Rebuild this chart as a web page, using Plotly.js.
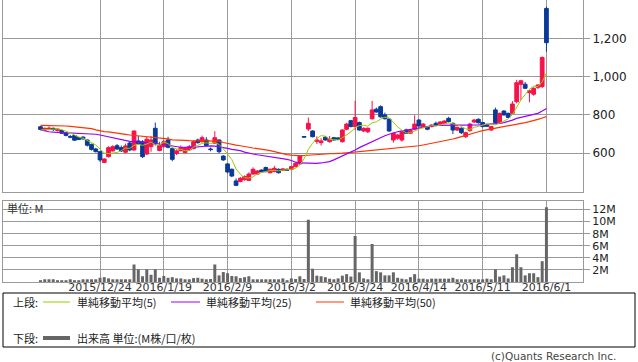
<!DOCTYPE html>
<html><head><meta charset="utf-8">
<script src="https://cdn.plot.ly/plotly-3.0.1.min.js"></script>
<style>html,body{margin:0;padding:0;background:#fff;}#chart{width:638px;height:362px;}</style>
</head><body><div id="chart"></div>
<script>
const dates = [
"2015/12/3","2015/12/4","2015/12/7","2015/12/8","2015/12/9","2015/12/10","2015/12/11","2015/12/14","2015/12/15","2015/12/16",
"2015/12/17","2015/12/18","2015/12/21","2015/12/22","2015/12/24","2015/12/25","2015/12/28","2015/12/29","2015/12/30","2016/1/4",
"2016/1/5","2016/1/6","2016/1/7","2016/1/8","2016/1/12","2016/1/13","2016/1/14","2016/1/15","2016/1/18","2016/1/19",
"2016/1/20","2016/1/21","2016/1/22","2016/1/25","2016/1/26","2016/1/27","2016/1/28","2016/1/29","2016/2/1","2016/2/2",
"2016/2/3","2016/2/4","2016/2/5","2016/2/8","2016/2/9","2016/2/10","2016/2/12","2016/2/15","2016/2/16","2016/2/17",
"2016/2/18","2016/2/19","2016/2/22","2016/2/23","2016/2/24","2016/2/25","2016/2/26","2016/2/29","2016/3/1","2016/3/2",
"2016/3/3","2016/3/4","2016/3/7","2016/3/8","2016/3/9","2016/3/10","2016/3/11","2016/3/14","2016/3/15","2016/3/16",
"2016/3/17","2016/3/18","2016/3/22","2016/3/23","2016/3/24","2016/3/25","2016/3/28","2016/3/29","2016/3/30","2016/3/31",
"2016/4/1","2016/4/4","2016/4/5","2016/4/6","2016/4/7","2016/4/8","2016/4/11","2016/4/12","2016/4/13","2016/4/14",
"2016/4/15","2016/4/18","2016/4/19","2016/4/20","2016/4/21","2016/4/22","2016/4/25","2016/4/26","2016/4/27","2016/4/28",
"2016/5/2","2016/5/6","2016/5/9","2016/5/10","2016/5/11","2016/5/12","2016/5/13","2016/5/16","2016/5/17","2016/5/18",
"2016/5/19","2016/5/20","2016/5/23","2016/5/24","2016/5/25","2016/5/26","2016/5/27","2016/5/30","2016/5/31","2016/6/1"];

const openP = [738,720,724,730,719,718,706,687,692,682, 684,669,646,622,608,552,582,612,639,629,
605,653,617,664,660,596,634,730,614,634, 669,624,598,613,603,617,625,669,660,669,
622,652,669,585,544,516,455,452,462,458, 491,491,512,525,498,504,516,510,516,516,
530,544,687,726,716,662,655,683,660,681, 680,660,725,770,739,760,716,712,780,830,
843,800,778,669,678,669,721,704,725,773, 735,737,739,756,752,756,782,756,721,730,
686,718,763,777,760,748,721,826,760,820, 808,808,869,960,960,916,908,944,948,1356];
const highP = [742,734,740,734,728,722,708,695,694,686, 688,672,650,628,610,572,636,642,648,640,
650,662,718,690,668,685,690,760,660,670, 686,630,620,640,630,643,665,676,692,684,
630,715,672,590,548,520,468,476,484,500, 526,512,516,530,520,534,520,522,520,534,
552,590,687,786,720,688,678,690,690,685, 684,725,758,774,874,765,735,735,873,838,
850,812,782,708,700,716,728,722,798,778, 758,742,752,765,768,772,790,760,740,735,
712,758,778,782,764,752,742,838,812,825, 812,872,983,983,972,930,944,960,1105,1365];
const lowP = [720,716,720,715,714,700,688,678,664,668, 670,635,614,604,555,548,578,608,618,606,
600,610,612,645,575,590,608,640,610,630, 625,558,590,610,600,612,620,650,656,635,
610,648,600,560,495,475,428,448,456,455, 488,488,500,500,494,500,494,506,508,512,
526,540,684,716,683,648,640,665,655,665, 668,655,720,735,721,718,710,705,775,812,
786,776,712,655,670,660,700,700,720,738, 730,720,735,740,748,752,760,700,715,700,
680,712,758,755,735,738,716,756,755,796, 784,804,860,878,935,866,900,935,940,1130];
const closeP = [724,730,731,725,726,704,693,684,668,672, 675,642,620,608,565,570,629,634,622,612,
638,617,716,650,582,673,669,648,640,660, 631,568,612,629,625,634,660,655,681,640,
619,681,608,565,502,481,432,469,478,491, 516,507,503,504,516,521,498,518,511,530,
547,585,684,756,686,669,664,669,673,669, 672,721,752,739,786,721,730,730,826,815,
790,780,716,704,695,712,704,718,752,742, 752,725,747,746,763,768,765,721,735,707,
707,752,773,759,739,741,739,760,808,800, 787,857,968,978,939,926,939,956,1100,1177];

const ma5 = [721,722,722,724,727,723,716,706,695,684, 678,668,655,643,622,601,598,601,604,613,
627,625,641,647,641,648,658,644,642,658, 650,629,622,620,613,614,632,641,651,654,
651,655,646,623,595,567,518,490,472,470, 477,492,499,504,509,510,508,511,513,516,
521,538,571,620,652,676,692,689,672,669, 669,681,697,711,734,744,746,741,759,764,
778,788,785,761,737,721,706,707,716,726, 734,738,744,742,747,750,758,753,750,739,
727,724,735,740,746,753,750,748,757,770, 779,802,844,878,906,934,950,948,972,1020];
const ma25 = [721,715,712,710,709,709,709,707,705,704, 704,704,703,699,695,690,686,681,677,673,
668,662,660,659,658,657,656,652,648,644, 640,636,632,631,630,630,631,633,635,637,
638,637,634,629,625,620,617,613,606,599, 596,592,589,586,583,580,576,572,568,562,
553,549,548,547,547,547,549,552,556,565, 575,585,595,604,617,629,640,650,660,672,
683,691,699,707,712,717,721,726,730,735, 739,741,743,745,745,745,745,745,745,745,
745,746,747,748,749,750,751,753,756,760, 765,773,782,787,792,796,800,808,820,834];
const ma50 = [745,745,745,744,744,743,742,740,737,735, 733,732,728,722,716,713,711,707,704,701,
698,695,693,690,688,686,685,681,679,677, 675,670,668,667,667,666,666,666,666,665,
665,664,663,656,650,645,642,639,634,629, 627,624,622,617,613,607,601,597,593,590,
588,587,588,590,593,594,595,596,597,598, 598,600,602,604,606,608,610,613,615,618,
620,622,624,626,628,631,633,635,637,639, 643,647,655,658,662,665,669,674,680,687,
695,700,706,712,718,722,726,729,733,738, 742,746,751,756,760,765,770,777,784,791];

const volume = [0.3,0.45,0.45,0.45,0.3,0.3,0.3,0.45,0.3,0.3, 0.45,0.45,0.45,0.45,0.7,0.8,0.6,0.45,0.45,0.45,
0.45,0.45,2.9,2.1,0.95,2.1,1.2,2.1,0.7,1.0, 0.7,0.8,0.6,0.6,0.45,0.45,0.65,0.7,0.55,0.45,
0.5,2.9,1.1,1.65,1.45,1.0,0.95,0.65,0.8,0.95, 0.45,0.45,0.45,0.45,0.45,0.45,0.45,0.6,0.3,0.6,
0.5,0.95,0.5,10.3,2.2,1.05,0.95,0.8,0.55,0.45, 0.6,1.05,1.3,0.9,7.6,1.6,0.6,0.45,6.3,1.8,
1.6,1.1,1.1,1.6,0.7,0.55,0.45,0.8,1.3,0.55, 0.55,0.45,0.55,0.55,0.55,0.55,0.55,0.7,0.45,0.45,
0.45,0.45,0.45,0.45,0.45,0.55,0.45,2.1,0.9,1.1, 0.6,2.45,4.6,2.45,1.1,1.45,1.45,0.8,3.45,12.4];

const xTicks = ["2015/12/24","2016/1/19","2016/2/9","2016/3/2","2016/3/24","2016/4/14","2016/5/11","2016/6/1"];
const priceTickVals = [600,800,1000,1200];
const priceTickText = ["600","800","1,000","1,200"];
const volTickVals = [2,4,6,8,10,12];
const volTickText = ["2M","4M","6M","8M","10M","12M"];
const legendLabels = ["単純移動平均(5)","単純移動平均(25)","単純移動平均(50)","出来高 単位:(M株/口/枚)"];

const RED = "#f5124a", BLUE = "#0a3a98";
const C5 = "#99cc00", C25 = "#9900ff", C50 = "#ff3300", VOL = "#666666";

const traces = [
  {type:"candlestick", x:dates, open:openP, high:highP, low:lowP, close:closeP,
   xaxis:"x", yaxis:"y",
   increasing:{line:{color:RED,width:1}, fillcolor:RED},
   decreasing:{line:{color:BLUE,width:1}, fillcolor:BLUE},
   whiskerwidth:0, hoverinfo:"skip", showlegend:false},
  {type:"scatter", mode:"lines", x:dates, y:ma50, line:{color:C50,width:1.2}, xaxis:"x", yaxis:"y", showlegend:false, hoverinfo:"skip"},
  {type:"scatter", mode:"lines", x:dates, y:ma25, line:{color:C25,width:1.2}, xaxis:"x", yaxis:"y", showlegend:false, hoverinfo:"skip"},
  {type:"scatter", mode:"lines", x:dates, y:ma5, line:{color:C5,width:1}, xaxis:"x", yaxis:"y", showlegend:false, hoverinfo:"skip"},
  {type:"bar", x:dates, y:volume, marker:{color:VOL, line:{width:0}}, xaxis:"x", yaxis:"y2", showlegend:false, hoverinfo:"skip"}
];

// pixel helpers (plot area: x 3..583, y 0..282)
const px = x => (x - 3) / 580;
const py = y => (282 - y) / 282;

const GRID = "#9a9a9a";
const txtFont = {family:"DejaVu Sans, sans-serif", size:11, color:"#333"};
const cjkFont = {family:"Noto Sans CJK JP, sans-serif", size:11, color:"#222"};

const shapes = [
  {type:"rect", xref:"paper", yref:"paper", x0:px(3), x1:px(635), y0:py(293), y1:py(347), line:{color:"#000",width:1}},
  {type:"line", xref:"paper", yref:"paper", x0:px(43), x1:px(70), y0:py(302), y1:py(302), line:{color:C5,width:1}},
  {type:"line", xref:"paper", yref:"paper", x0:px(171), x1:px(200), y0:py(302), y1:py(302), line:{color:C25,width:1}},
  {type:"line", xref:"paper", yref:"paper", x0:px(316), x1:px(344), y0:py(302), y1:py(302), line:{color:C50,width:1}},
  {type:"line", xref:"paper", yref:"paper", x0:px(43), x1:px(70), y0:py(338), y1:py(338), line:{color:VOL,width:4}}
];
const ann = (text, x, y, font, xanchor) => ({text, xref:"paper", yref:"paper", x:px(x), y:py(y),
  xanchor:xanchor||"left", yanchor:"middle", showarrow:false, font, align:"left"});
const annotations = [
  ann("単位: M", 5, 208, {family:"Noto Sans CJK JP, sans-serif", size:11, color:"#333"}),
  ann("上段:", 11, 302, cjkFont),
  ann(legendLabels[0], 75, 302, cjkFont),
  ann(legendLabels[1], 204, 302, cjkFont),
  ann(legendLabels[2], 348, 302, cjkFont),
  ann("下段:", 11, 338, cjkFont),
  ann(legendLabels[3], 75, 338, cjkFont),
  ann("(c)Quants Research Inc.", 618, 356, {family:"DejaVu Sans, sans-serif", size:10.5, color:"#444"}, "right")
];

const layout = {
  width:638, height:362,
  margin:{l:3, r:55, t:0, b:80, pad:0},
  paper_bgcolor:"#fff", plot_bgcolor:"#fff",
  showlegend:false,
  boxgap:0.12, boxgroupgap:0, bargap:0.3,
  xaxis:{type:"category", range:[-8.82,127.6], anchor:"y2",
    tickmode:"array", tickvals:xTicks, ticktext:xTicks,
    showgrid:true, gridcolor:GRID, gridwidth:1,
    showline:true, linecolor:GRID, linewidth:1, mirror:"all",
    ticks:"", ticklabelstandoff:-5, tickfont:txtFont, rangeslider:{visible:false}, fixedrange:true, zeroline:false},
  yaxis:{domain:[1-191.5/282, 1], range:[400,1400], side:"right",
    tickmode:"array", tickvals:priceTickVals, ticktext:priceTickText,
    showgrid:true, gridcolor:GRID, gridwidth:1, zeroline:false,
    showline:true, linecolor:GRID, linewidth:1, mirror:true,
    ticks:"outside", ticklen:6, tickcolor:GRID, tickfont:{family:"DejaVu Sans, sans-serif", size:12, color:"#222"}},
  yaxis2:{domain:[0, 81.5/282], range:[0,13.5], side:"right",
    tickmode:"array", tickvals:volTickVals, ticktext:volTickText,
    showgrid:true, gridcolor:GRID, gridwidth:1, zeroline:false,
    showline:true, linecolor:GRID, linewidth:1, mirror:true,
    ticks:"outside", ticklen:6, tickcolor:GRID, tickfont:{family:"DejaVu Sans, sans-serif", size:11, color:"#222"}},
  shapes, annotations
};

Plotly.newPlot("chart", traces, layout, {staticPlot:true, displayModeBar:false});
</script></body></html>
